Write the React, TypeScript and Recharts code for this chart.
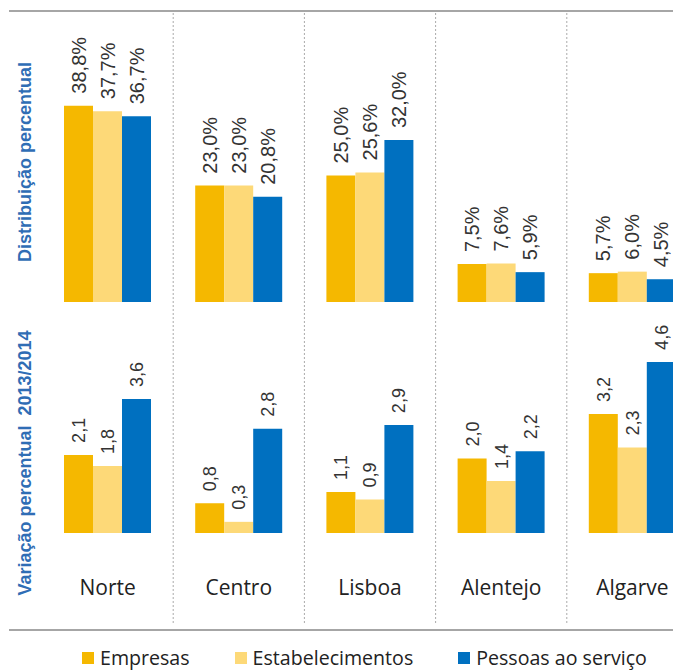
import React from 'react';
import { BarChart, ComposedChart, Bar, Scatter, XAxis, YAxis, LabelList, ReferenceLine } from 'recharts';

const regions = ['Norte', 'Centro', 'Lisboa', 'Alentejo', 'Algarve'];

// Distribuição percentual (%)
const shareEmpresas = [38.8, 23.0, 25.0, 7.5, 5.7];
const shareEstabelecimentos = [37.7, 23.0, 25.6, 7.6, 6.0];
const sharePessoas = [36.7, 20.8, 32.0, 5.9, 4.5];

// Variação percentual 2013/2014
const changeEmpresas = [2.1, 0.8, 1.1, 2.0, 3.2];
const changeEstabelecimentos = [1.8, 0.3, 0.9, 1.4, 2.3];
const changePessoas = [3.6, 2.8, 2.9, 2.2, 4.6];

const series = [
  { key: 'empresas', name: 'Empresas', color: '#F5B800' },
  { key: 'estabelecimentos', name: 'Estabelecimentos', color: '#FDD978' },
  { key: 'pessoas', name: 'Pessoas ao serviço', color: '#0070C0' },
];

const shareData = regions.map((region, i) => ({
  region,
  empresas: shareEmpresas[i],
  estabelecimentos: shareEstabelecimentos[i],
  pessoas: sharePessoas[i],
}));

const changeData = regions.map((region, i) => ({
  region,
  empresas: changeEmpresas[i],
  estabelecimentos: changeEstabelecimentos[i],
  pessoas: changePessoas[i],
}));

// category slots on a 0..5 scale, used for the dotted separators
const slotData = regions.map((_, i) => ({ pos: i + 0.5, y: 0.5 }));
const boundaries = regions.slice(1).map((_, i) => i + 1);

const ARIAL = '"Liberation Sans", Arial, sans-serif';
const SEGOE = '"Open Sans", "Noto Sans", sans-serif';
const TITLE_BLUE = '#2F6DB5';
const CHART_W = 720;
const MARGIN_L = 42;
const MARGIN_R = 22;

const fmt = (v: number) => v.toFixed(1).replace('.', ',');

function rotatedLabel(fontSize: number, suffix: string) {
  return (props: any) => {
    const x = Number(props.x);
    const y = Number(props.y);
    const w = Number(props.width);
    const cx = x + w / 2;
    const ty = y - 12;
    return (
      <text
        x={cx}
        y={ty}
        dy="0.36em"
        transform={`rotate(-90, ${cx}, ${ty})`}
        textAnchor="start"
        fontFamily={ARIAL}
        fontSize={fontSize}
        fill="#333"
      >
        {fmt(Number(props.value)) + suffix}
      </text>
    );
  };
}

const abs = (top: number): React.CSSProperties => ({ position: 'absolute', left: 0, top });

export default function App() {
  return (
    <div
      style={{
        position: 'fixed',
        left: 0,
        top: 0,
        width: 673,
        height: 670,
        overflow: 'hidden',
        background: '#fff',
      }}
    >
      {/* separators */}
      <div style={abs(0)}>
        <ComposedChart
          width={CHART_W}
          height={670}
          data={slotData}
          margin={{ top: 11, right: MARGIN_R, left: MARGIN_L, bottom: 47 }}
        >
          <XAxis dataKey="pos" type="number" domain={[0, 5]} hide />
          <YAxis type="number" domain={[0, 1]} hide />
          <Scatter dataKey="y" fill="none" isAnimationActive={false} />
          {boundaries.map((b) => (
            <ReferenceLine key={b} x={b} stroke="#aaa" strokeDasharray="2 2" ifOverflow="visible" />
          ))}
        </ComposedChart>
      </div>

      <div style={{ position: 'absolute', left: 9, top: 10, width: 664, height: 2, background: '#a6a6a6' }} />
      <div style={{ position: 'absolute', left: 9, top: 629, width: 664, height: 2, background: '#a6a6a6' }} />

      {/* top panel */}
      <div style={abs(0)}>
        <BarChart
          width={CHART_W}
          height={302}
          data={shareData}
          barGap={0}
          margin={{ top: 49, right: MARGIN_R, left: MARGIN_L, bottom: 0 }}
        >
          <XAxis dataKey="region" hide />
          <YAxis hide domain={[0, 50]} />
          {series.map((s) => (
            <Bar key={s.key} dataKey={s.key} name={s.name} fill={s.color} barSize={29} isAnimationActive={false}>
              <LabelList dataKey={s.key} content={rotatedLabel(20, '%')} />
            </Bar>
          ))}
        </BarChart>
      </div>

      {/* bottom panel */}
      <div style={abs(302)}>
        <BarChart
          width={CHART_W}
          height={330}
          data={changeData}
          barGap={0}
          margin={{ top: 45, right: MARGIN_R, left: MARGIN_L, bottom: 0 }}
        >
          <XAxis
            dataKey="region"
            height={99}
            interval={0}
            axisLine={false}
            tickLine={false}
            tickSize={0}
            tickMargin={47}
            tick={{ fontFamily: SEGOE, fontSize: 21, fill: '#222' }}
          />
          <YAxis hide domain={[0, 5]} />
          {series.map((s) => (
            <Bar key={s.key} dataKey={s.key} name={s.name} fill={s.color} barSize={29} isAnimationActive={false}>
              <LabelList dataKey={s.key} content={rotatedLabel(18, '')} />
            </Bar>
          ))}
        </BarChart>
      </div>

      {/* panel titles */}
      {[
        { text: 'Distribuição percentual', cy: 162 },
        { text: 'Variação percentual  2013/2014', cy: 463 },
      ].map((t) => (
        <div
          key={t.text}
          style={{
            position: 'absolute',
            left: 25,
            top: t.cy,
            transform: 'translate(-50%, -50%) rotate(-90deg)',
            whiteSpace: 'pre',
            fontFamily: ARIAL,
            fontWeight: 'bold',
            fontSize: 18,
            color: TITLE_BLUE,
          }}
        >
          {t.text}
        </div>
      ))}

      {/* legend */}
      <div
        style={{
          position: 'absolute',
          left: 82,
          top: 648,
          display: 'flex',
          alignItems: 'center',
          gap: 45,
          fontFamily: SEGOE,
          fontSize: 19.6,
          lineHeight: '20px',
          color: '#222',
        }}
      >
        {series.map((s) => (
          <div key={s.key} style={{ display: 'flex', alignItems: 'center' }}>
            <span style={{ display: 'inline-block', width: 12, height: 12, background: s.color, marginRight: 6 }} />
            <span>{s.name}</span>
          </div>
        ))}
      </div>
    </div>
  );
}
